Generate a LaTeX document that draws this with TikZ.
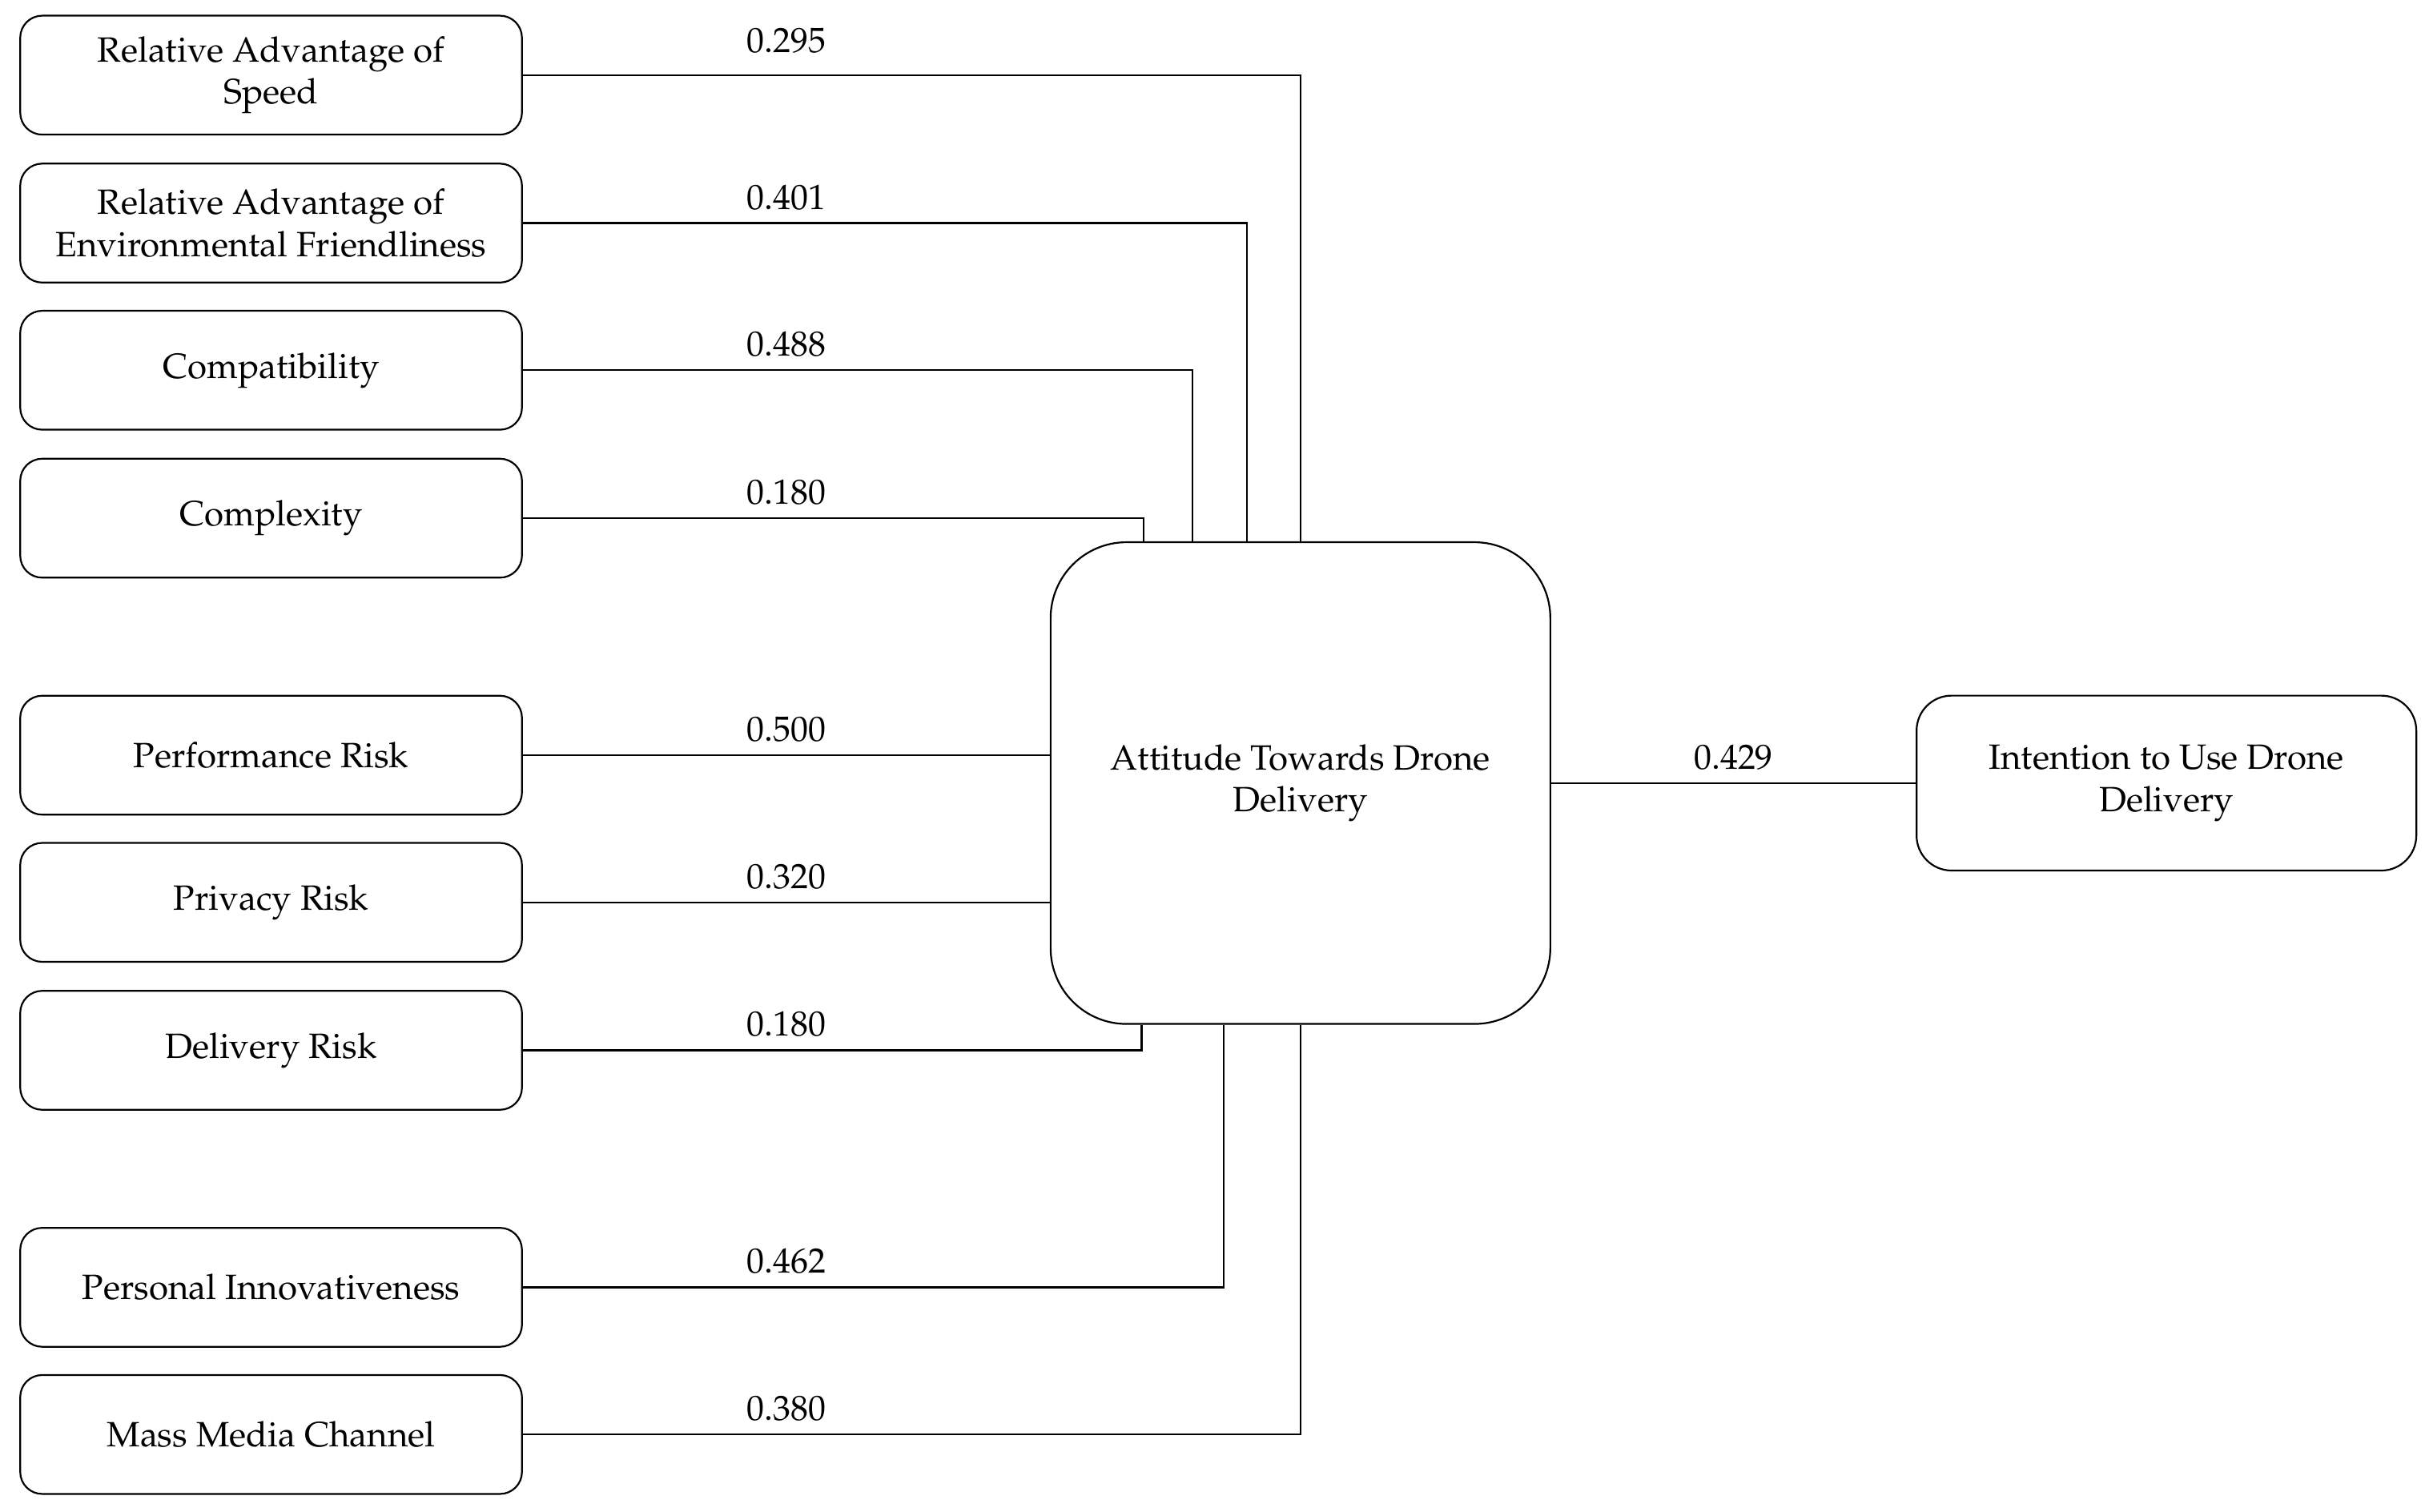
\documentclass[tikz,border=0pt]{standalone}
\usepackage[T1]{fontenc}
\usepackage{mathpazo}
\usetikzlibrary{calc}

\tikzset{
  factor/.style={draw, rounded corners=2.2mm, minimum width=50.2mm, minimum height=11.9mm, align=center, inner sep=1pt},
  attitude/.style={draw, rounded corners=7.6mm, minimum width=50mm, minimum height=48.2mm, align=center},
  intent/.style={draw, rounded corners=3.5mm, minimum width=50mm, minimum height=17.5mm, align=center},
  wt/.style={anchor=base, yshift=4pt, inner sep=0pt}
}

\begin{document}
\begin{tikzpicture}[x=0.155mm, y=-0.155mm, line width=0.5pt]
    \useasboundingbox (0,0) rectangle (1568,976);
    \node[factor] (speed) at (175,48.5) {Relative Advantage of\\Speed};
    \node[factor] (envir) at (175,144) {Relative Advantage of\\Environmental Friendliness};
    \node[factor] (compat) at (175,239) {Compatibility};
    \node[factor] (complex) at (175,334.5) {Complexity};
    \node[factor] (perf) at (175,487.5) {Performance Risk};
    \node[factor] (privacy) at (175,582.5) {Privacy Risk};
    \node[factor] (deliv) at (175,678) {Delivery Risk};
    \node[factor] (innov) at (175,831) {Personal Innovativeness};
    \node[factor] (media) at (175,926) {Mass Media Channel};
    \node[attitude] (att) at (839.5,505.5) {Attitude Towards Drone\\Delivery};
    \node[intent] (int) at (1398.5,505.5) {Intention to Use Drone\\Delivery};
    \draw (speed.east) -| (att.north);
    \draw (envir.east) -| ([xshift=-5.35mm]att.north);
    \draw (compat.east) -| ([xshift=-10.8mm]att.north);
    \draw (complex.east) -| ([xshift=-15.7mm]att.north);
    \draw (perf.east) -- (perf.east -| att.west);
    \draw (privacy.east) -- (privacy.east -| att.west);
    \draw (deliv.east) -| ([xshift=-15.9mm]att.south);
    \draw (innov.east) -| ([xshift=-7.7mm]att.south);
    \draw (media.east) -| (att.south);
    \draw (att) -- (int);
    \node[wt, yshift=2.5pt] at ($(speed.east)!.5!(speed.east -| att.west)$) {0.295};
    \node[wt] at ($(envir.east)!.5!(envir.east -| att.west)$) {0.401};
    \node[wt] at ($(compat.east)!.5!(compat.east -| att.west)$) {0.488};
    \node[wt] at ($(complex.east)!.5!(complex.east -| att.west)$) {0.180};
    \node[wt] at ($(perf.east)!.5!(perf.east -| att.west)$) {0.500};
    \node[wt] at ($(privacy.east)!.5!(privacy.east -| att.west)$) {0.320};
    \node[wt] at ($(deliv.east)!.5!(deliv.east -| att.west)$) {0.180};
    \node[wt] at ($(innov.east)!.5!(innov.east -| att.west)$) {0.462};
    \node[wt] at ($(media.east)!.5!(media.east -| att.west)$) {0.380};
    \node[wt] at ($(att.east)!.5!(int.west)$) {0.429};
\end{tikzpicture}
\end{document}
